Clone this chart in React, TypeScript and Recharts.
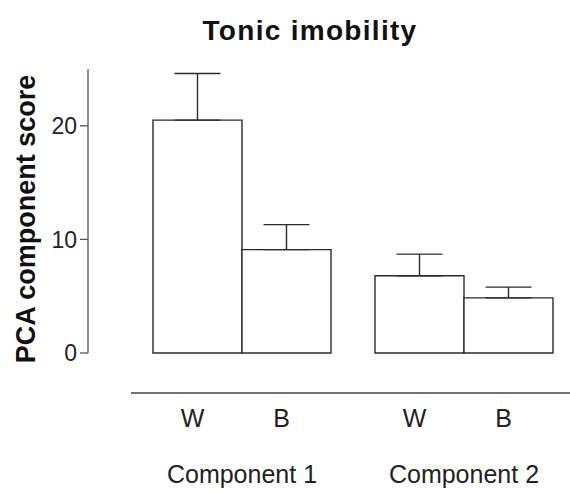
import React from "react";
import { BarChart, Bar, XAxis, YAxis, ErrorBar } from "recharts";

// values
const components = ["Component 1", "Component 2"];
const groups = ["W", "B"];
const wMeans = [20.5, 6.8];
const wErrors = [4.1, 1.9];
const bMeans = [9.1, 4.85];
const bErrors = [2.2, 0.95];
const yTicks = [0, 10, 20];

const FONT = "'Liberation Sans', Arial, sans-serif";
const INK = "#2b2b2b";
const BAR_SIZE = 89;
const HALF_BAND = 111;

const rows = components.map((c, i) => ({
  component: c,
  W: wMeans[i],
  wErr: [0, wErrors[i]],
  B: bMeans[i],
  bErr: [0, bErrors[i]],
}));

const GroupTick = ({
  x,
  y,
  payload,
}: {
  x?: number;
  y?: number;
  payload?: { value: string };
}) => {
  const cx = x ?? 0;
  const cy = y ?? 0;
  return (
    <g>
      <line
        x1={cx - HALF_BAND}
        x2={cx + HALF_BAND}
        y1={cy + 40}
        y2={cy + 40}
        stroke="#444"
        strokeWidth={1.3}
      />
      {groups.map((g, i) => (
        <text
          key={g}
          x={cx + (i - 0.5) * BAR_SIZE - 5}
          y={cy + 74}
          textAnchor="middle"
          fontFamily={FONT}
          fontSize={25}
          fill="#222"
        >
          {g}
        </text>
      ))}
      <text
        x={cx}
        y={cy + 130}
        textAnchor="middle"
        fontFamily={FONT}
        fontSize={25}
        fill="#222"
      >
        {payload?.value}
      </text>
    </g>
  );
};

const YLabel = () => (
  <text
    x={35}
    y={219}
    transform="rotate(-90 35 219)"
    textAnchor="middle"
    fontFamily={FONT}
    fontSize={27}
    fontWeight="bold"
    fill="#111"
  >
    PCA component score
  </text>
);

export default function App() {
  return (
    <div
      style={{
        position: "absolute",
        left: 0,
        top: 0,
        width: 570,
        height: 494,
        background: "#fff",
        fontFamily: FONT,
      }}
    >
      <div
        style={{
          position: "absolute",
          left: 160,
          top: 17,
          width: 300,
          textAlign: "center",
          fontSize: 28,
          lineHeight: "28px",
          fontWeight: "bold",
          letterSpacing: 1.3,
          color: "#111",
        }}
      >
        Tonic imobility
      </div>
      <BarChart
        width={570}
        height={494}
        data={rows}
        barGap={0}
        margin={{ top: 69, right: 0, bottom: 0, left: 0 }}
      >
        <XAxis
          dataKey="component"
          height={141}
          axisLine={false}
          tickLine={false}
          tickSize={0}
          tickMargin={0}
          padding={{ left: 43, right: -5 }}
          tick={<GroupTick />}
          interval={0}
        />
        <YAxis
          width={88}
          domain={[0, 25]}
          ticks={yTicks}
          axisLine={{ stroke: "#555", strokeWidth: 1.3 }}
          tickLine={{ stroke: "#555", strokeWidth: 1.3 }}
          tickSize={8}
          tickMargin={3}
          tick={{ fill: "#222", fontSize: 23, fontFamily: FONT }}
          label={<YLabel />}
        />
        <Bar
          dataKey="W"
          barSize={BAR_SIZE}
          fill="#fff"
          stroke={INK}
          strokeWidth={1.4}
          isAnimationActive={false}
        >
          <ErrorBar
            dataKey="wErr"
            width={23}
            stroke={INK}
            strokeWidth={1.4}
            direction="y"
          />
        </Bar>
        <Bar
          dataKey="B"
          barSize={BAR_SIZE}
          fill="#fff"
          stroke={INK}
          strokeWidth={1.4}
          isAnimationActive={false}
        >
          <ErrorBar
            dataKey="bErr"
            width={23}
            stroke={INK}
            strokeWidth={1.4}
            direction="y"
          />
        </Bar>
      </BarChart>
    </div>
  );
}
